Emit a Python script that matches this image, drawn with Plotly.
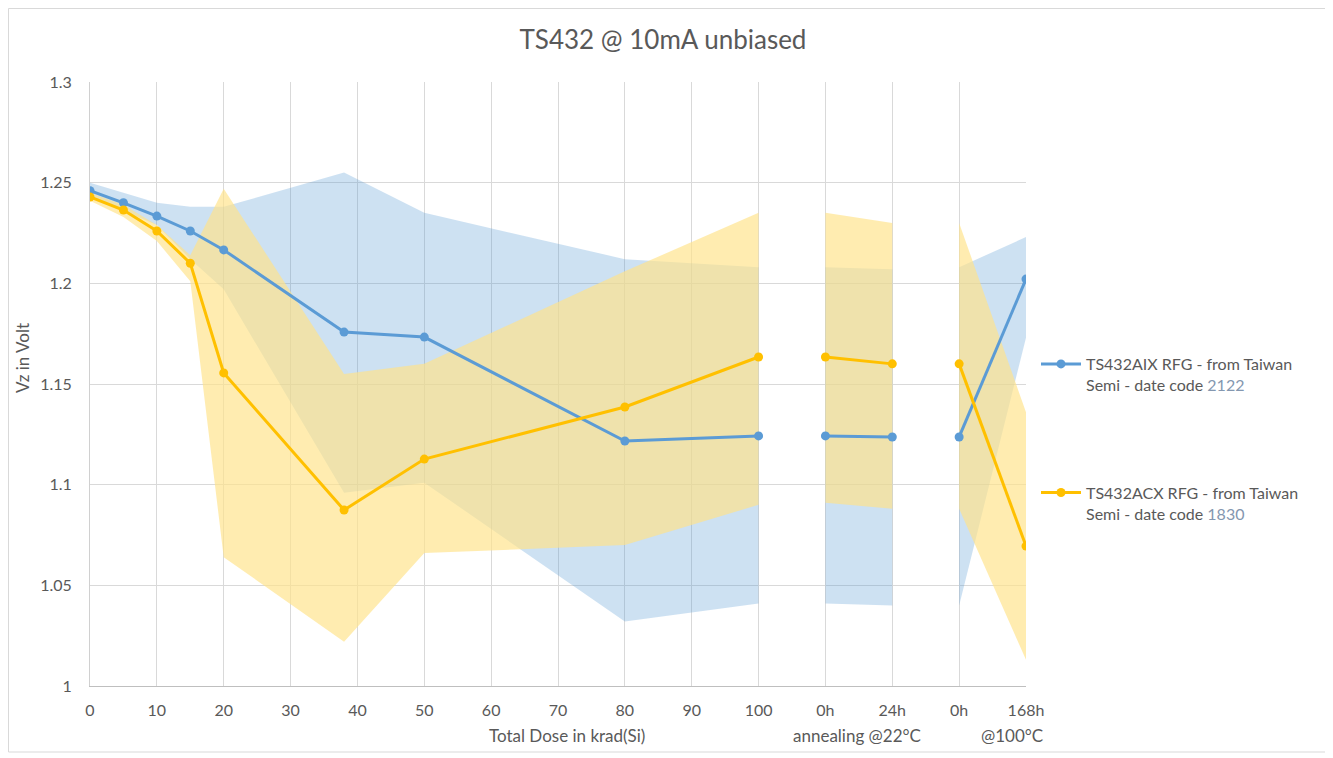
import plotly.graph_objects as go

# ---- data ----
x_pos = [0, 5, 10, 15, 20, 38, 50, 80, 100, 110, 120, 130, 140]
segment = [0, 0, 0, 0, 0, 0, 0, 0, 0, 1, 1, 2, 2]

aix_mean = [1.246, 1.240, 1.2334, 1.226, 1.2166, 1.1758, 1.1733, 1.1217, 1.1242, 1.1242, 1.1237, 1.1237, 1.2021]
aix_upper = [1.250, 1.245, 1.240, 1.238, 1.238, 1.255, 1.235, 1.212, 1.208, 1.208, 1.207, 1.208, 1.223]
aix_lower = [1.243, 1.236, 1.229, 1.212, 1.197, 1.096, 1.101, 1.032, 1.041, 1.041, 1.040, 1.040, 1.173]

acx_mean = [1.2429, 1.2364, 1.226, 1.210, 1.1555, 1.0874, 1.1127, 1.1386, 1.1634, 1.1634, 1.160, 1.160, 1.0695]
acx_upper = [1.245, 1.239, 1.229, 1.214, 1.247, 1.155, 1.160, 1.206, 1.235, 1.235, 1.230, 1.230, 1.136]
acx_lower = [1.241, 1.233, 1.221, 1.201, 1.064, 1.022, 1.066, 1.070, 1.090, 1.091, 1.088, 1.088, 1.013]

tick_vals = [0, 10, 20, 30, 40, 50, 60, 70, 80, 90, 100, 110, 120, 130, 140]
tick_text = ["0", "10", "20", "30", "40", "50", "60", "70", "80", "90", "100", "0h", "24h", "0h", "168h"]
y_ticks = [1.0, 1.05, 1.1, 1.15, 1.2, 1.25, 1.3]
y_text = ["1", "1.05", "1.1", "1.15", "1.2", "1.25", "1.3"]

name_aix = "TS432AIX RFG - from Taiwan<br>Semi - date code <span style='color:#8497b0'>2122</span>"
name_acx = "TS432ACX RFG - from Taiwan<br>Semi - date code <span style='color:#8497b0'>1830</span>"

BLUE = "#5b9bd5"
YELLOW = "#ffc000"
GREY = "#595959"
FONT = "Lato"

# page offset (browser body margin) compensation
OFF = 8
W, H = 1333 - OFF, 758 - OFF
PL, PR, PT, PB = 90, 1026, 82, 686  # plot area in page pixels


def px_x(p):
    return (p - PL) / (PR - PL)


def px_y(p):
    return (PB - p) / (PB - PT)


def with_gaps(xs, ys, seg):
    ox, oy = [], []
    for i, (a, b) in enumerate(zip(xs, ys)):
        if i > 0 and seg[i] != seg[i - 1]:
            ox.append(None)
            oy.append(None)
        ox.append(a)
        oy.append(b)
    return ox, oy


def band(xs, up, lo, seg):
    ox, oy = [], []
    for s in sorted(set(seg)):
        idx = [i for i in range(len(xs)) if seg[i] == s]
        if ox:
            ox.append(None)
            oy.append(None)
        ox += [xs[i] for i in idx] + [xs[i] for i in reversed(idx)]
        oy += [up[i] for i in idx] + [lo[i] for i in reversed(idx)]
    return ox, oy


fig = go.Figure()

bx, by = band(x_pos, aix_upper, aix_lower, segment)
fig.add_trace(go.Scatter(x=bx, y=by, fill="toself", mode="none",
                         fillcolor="rgba(91,155,213,0.30)", showlegend=False, hoverinfo="skip"))
bx, by = band(x_pos, acx_upper, acx_lower, segment)
fig.add_trace(go.Scatter(x=bx, y=by, fill="toself", mode="none",
                         fillcolor="rgba(255,227,137,0.67)", showlegend=False, hoverinfo="skip"))

lx, ly = with_gaps(x_pos, aix_mean, segment)
fig.add_trace(go.Scatter(x=lx, y=ly, mode="lines+markers", name=name_aix, legendgroup="a",
                         line=dict(color=BLUE, width=3), marker=dict(color=BLUE, size=9)))
lx, ly = with_gaps(x_pos, acx_mean, segment)
fig.add_trace(go.Scatter(x=lx, y=ly, mode="lines+markers", name=name_acx, legendgroup="b",
                         line=dict(color=YELLOW, width=3), marker=dict(color=YELLOW, size=9)))

fig.update_layout(
    width=W, height=H,
    margin=dict(l=PL - OFF, r=W - (PR - OFF), t=PT - OFF, b=H - (PB - OFF)),
    paper_bgcolor="white", plot_bgcolor="white",
    font=dict(family=FONT, size=16, color=GREY),
    title=dict(text="TS432 @ 10mA unbiased", x=(663 - OFF) / W, xanchor="center",
               y=1 - (40 - OFF) / H, yanchor="middle",
               font=dict(size=26, color=GREY, family=FONT)),
    showlegend=True,
    legend=dict(x=px_x(1036), xanchor="left", y=px_y(347), yanchor="top", valign="top",
                tracegroupgap=84, traceorder="grouped", itemwidth=40,
                font=dict(size=16, color=GREY, family=FONT), bgcolor="rgba(0,0,0,0)"),
    xaxis=dict(range=[0, 140], tickmode="array", tickvals=tick_vals, ticktext=tick_text,
               showgrid=True, gridcolor="#d9d9d9", gridwidth=1, zeroline=False,
               showline=True, linecolor="#bfbfbf", linewidth=1, ticks="", ticklabelstandoff=10,
               tickfont=dict(size=16, color=GREY)),
    yaxis=dict(range=[1.0, 1.3], tickmode="array", tickvals=y_ticks, ticktext=y_text,
               showgrid=True, gridcolor="#d9d9d9", gridwidth=1, zeroline=False,
               showline=True, linecolor="#d0d0d0", linewidth=1, ticks="", ticklabelstandoff=14,
               tickfont=dict(size=16, color=GREY)),
)

fig.add_annotation(text="Vz in Volt", xref="paper", yref="paper", x=px_x(22), y=px_y(358),
                   xanchor="center", yanchor="middle",
                   textangle=-90, showarrow=False, font=dict(size=17, color=GREY, family=FONT))
for txt, cx in [("Total Dose in krad(Si)", 567), ("annealing @22°C", 857), ("@100°C", 1012)]:
    fig.add_annotation(text=txt, xref="paper", yref="paper", x=px_x(cx), y=px_y(735),
                       xanchor="center", yanchor="middle", showarrow=False,
                       font=dict(size=17, color=GREY, family=FONT))

fig.add_shape(type="rect", xref="paper", yref="paper",
              x0=px_x(8.5), x1=px_x(1327), y0=px_y(752), y1=px_y(8.5),
              line=dict(color="#d9d9d9", width=1), fillcolor="rgba(0,0,0,0)", layer="below")

fig.write_html("out.html")
